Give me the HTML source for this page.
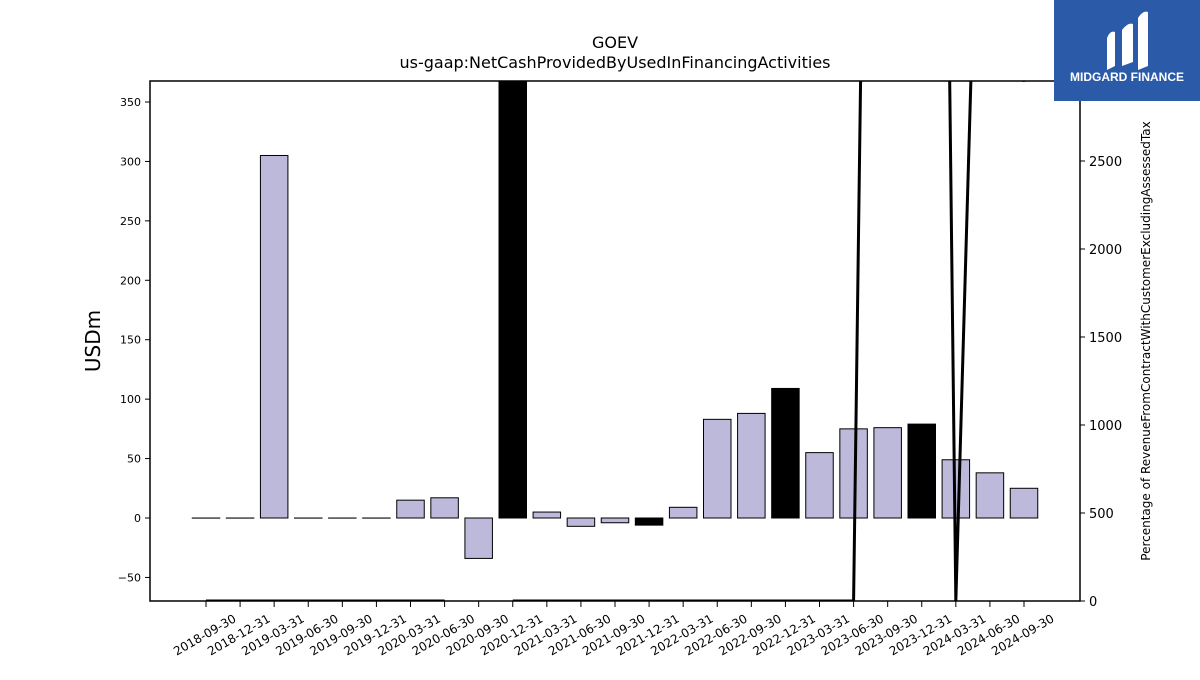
<!DOCTYPE html>
<html><head><meta charset="utf-8"><style>
body{margin:0;background:#fff;width:1200px;height:675px;overflow:hidden;font-family:"Liberation Sans","DejaVu Sans",sans-serif}
</style></head><body>
<svg id="c" width="1200" height="675" xmlns="http://www.w3.org/2000/svg" style="font-family:'DejaVu Sans','Liberation Sans',sans-serif">
<text x="615" y="48" text-anchor="middle" font-size="16">GOEV</text>
<text x="615" y="68" text-anchor="middle" font-size="16">us-gaap:NetCashProvidedByUsedInFinancingActivities</text>
<text transform="translate(100,341) rotate(-90)" text-anchor="middle" font-size="20">USDm</text>
<text transform="translate(1150,341) rotate(-90)" text-anchor="middle" font-size="12">Percentage of RevenueFromContractWithCustomerExcludingAssessedTax</text>
<g id="bars"></g><g id="line"></g><g id="axes"></g>
<g>
<rect x="1054" y="0" width="146" height="101" fill="#2b5aa8"/>
<path d="M1107 70 L1107 38 Q1110 30 1115 32 L1115 66 Z M1122 66 L1122 30 Q1128 22 1133 24 L1133 62 Z M1138 70 L1138 18 Q1143 10 1148 12 L1148 66 Z" fill="#fff"/>
<text x="1127" y="81" text-anchor="middle" font-size="12" font-weight="bold" fill="#fff" font-family="Liberation Sans,sans-serif">MIDGARD FINANCE</text>
</g>
</svg>
<script>
const categories=["2018-09-30","2018-12-31","2019-03-31","2019-06-30","2019-09-30","2019-12-31","2020-03-31","2020-06-30","2020-09-30","2020-12-31","2021-03-31","2021-06-30","2021-09-30","2021-12-31","2022-03-31","2022-06-30","2022-09-30","2022-12-31","2023-03-31","2023-06-30","2023-09-30","2023-12-31","2024-03-31","2024-06-30","2024-09-30"];
const vals=[0,0,305,0,0,0,15,17,-34,370,5,-7,-4,-6,9,83,88,109,55,75,76,79,49,38,25];
const hl=[0,0,0,0,0,0,0,0,0,1,0,0,0,1,0,0,0,1,0,0,0,1,0,0,0];
const pcts=[0,0,0,0,0,0,0,0,null,0,0,0,0,0,0,0,0,0,0,0,14400,16400,0,6700,2950];
const leftTicks=[-50,0,50,100,150,200,250,300,350];
const rightTicks=[0,500,1000,1500,2000,2500];
</script>
<script>
const NS="http://www.w3.org/2000/svg";
const L=150,R=1080,T=81,B=601;
const x=i=>206+i*(1024-206)/(categories.length-1);
const y=v=>518-v*(416/350);
const y2=v=>601-v*(88/500);
function mk(tag,at,p){const e=document.createElementNS(NS,tag);for(const k in at)e.setAttribute(k,at[k]);p.appendChild(e);return e;}
const bars=document.getElementById('bars'),line=document.getElementById('line'),axes=document.getElementById('axes');
const cp=mk('clipPath',{id:'cp'},document.getElementById('c'));mk('rect',{x:L,y:T,width:R-L,height:B-T},cp);
bars.setAttribute('clip-path','url(#cp)');line.setAttribute('clip-path','url(#cp)');
const bw=27.5;
vals.forEach((v,i)=>{
 const r=mk('rect',{x:x(i)-bw/2,y:Math.min(y(v),y(0)),width:bw,height:Math.max(Math.abs(y(v)-y(0)),0.1),fill:hl[i]?'#000':'#bdb9da',stroke:'#000','stroke-width':1},bars);
 
 
});
let d='',pen=false;
pcts.forEach((v,i)=>{if(v===null){pen=false;return;}d+=(pen?'L':'M')+x(i)+' '+y2(v)+' ';pen=true;});
const pl=mk('path',{d:d,fill:'none',stroke:'#000','stroke-width':3},line);


const fr=mk('rect',{x:L,y:T,width:R-L,height:B-T,fill:'none',stroke:'#000','stroke-width':1.5},axes);


leftTicks.forEach(t=>{
 mk('line',{x1:L-5,x2:L,y1:y(t),y2:y(t),stroke:'#000'},axes);
 const tx=mk('text',{x:L-9,y:y(t)+4,'text-anchor':'end','font-size':11},axes);tx.textContent=t<0?'\u2212'+(-t):t;
 
 
});
rightTicks.forEach(t=>{
 mk('line',{x1:R,x2:R+5,y1:y2(t),y2:y2(t),stroke:'#000'},axes);
 const tx=mk('text',{x:R+9,y:y2(t)+5,'font-size':13},axes);tx.textContent=t;
 
 
});
categories.forEach((c,i)=>{
 mk('line',{x1:x(i),x2:x(i),y1:B,y2:B+6,stroke:'#000'},axes);
 const tx=mk('text',{transform:`translate(${x(i)+31},${B+20}) rotate(-30)`,'text-anchor':'end','font-size':12},axes);tx.textContent=c;
 
 
});
</script>
</body></html>
